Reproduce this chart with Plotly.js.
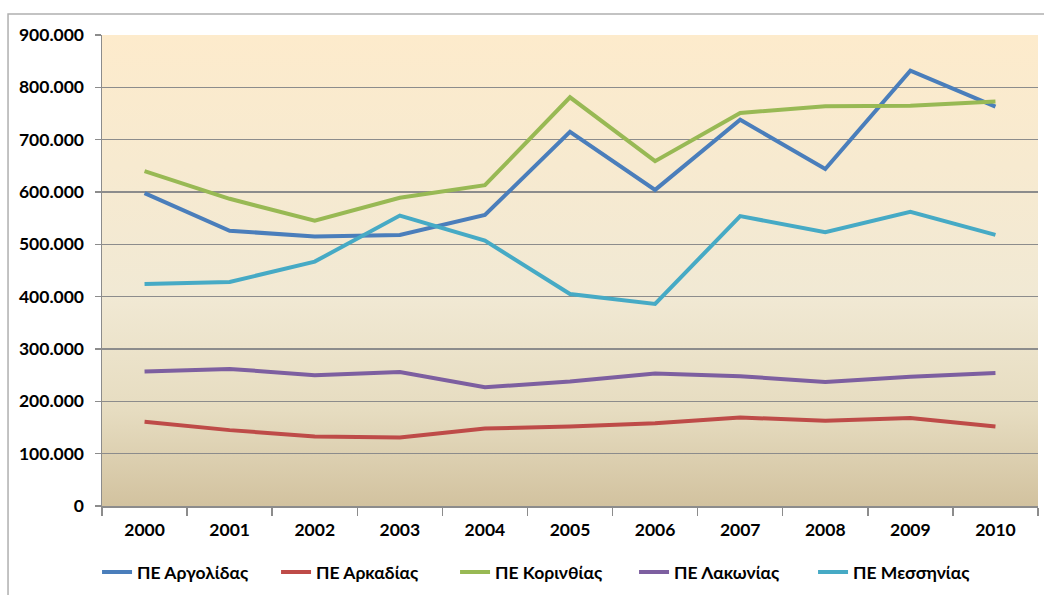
<!DOCTYPE html>
<html>
<head>
<meta charset="utf-8">
<script src="https://cdn.plot.ly/plotly-3.0.1.min.js"></script>
<style>
html,body{margin:0;padding:0;background:#fff;}
#chart{width:1044px;height:595px;}
</style>
</head>
<body>
<div id="chart"></div>
<script>
var years = ['2000','2001','2002','2003','2004','2005','2006','2007','2008','2009','2010'];
var argolida  = [598000, 526000, 515000, 518000, 556000, 715000, 604000, 738000, 644000, 832000, 763000];
var arkadia   = [161000, 145000, 133000, 131000, 148000, 152000, 158000, 169000, 163000, 168000, 152000];
var korinthia = [640000, 587000, 545000, 589000, 613000, 781000, 659000, 751000, 764000, 765000, 773000];
var lakonia   = [257000, 262000, 250000, 256000, 227000, 238000, 253000, 248000, 237000, 247000, 254000];
var messinia  = [424000, 428000, 467000, 555000, 507000, 405000, 386000, 554000, 523000, 562000, 518000];
var seriesNames = ['ΠΕ Αργολίδας','ΠΕ Αρκαδίας','ΠΕ Κορινθίας','ΠΕ Λακωνίας','ΠΕ Μεσσηνίας'];
var yTickVals = [0,100000,200000,300000,400000,500000,600000,700000,800000,900000];
var yTickText = ['0','100.000','200.000','300.000','400.000','500.000','600.000','700.000','800.000','900.000'];

var colors = ['#4a7ebb','#be4b48','#98b954','#7d5fa0','#46aac5'];
var data = [argolida, arkadia, korinthia, lakonia, messinia];
var traces = data.map(function(vals, i){
  return {x: years, y: vals, type:'scatter', mode:'lines', name: seriesNames[i],
          line:{color: colors[i], width:4}};
});

var grad = 'data:image/svg+xml;utf8,' + encodeURIComponent(
 '<svg xmlns="http://www.w3.org/2000/svg" width="100" height="100" preserveAspectRatio="none">' +
 '<defs><linearGradient id="g" x1="0" y1="0" x2="0" y2="1">' +
 '<stop offset="0" stop-color="#fdebcc"/><stop offset="0.55" stop-color="#f1e9d4"/>' +
 '<stop offset="0.8" stop-color="#e6dcc0"/><stop offset="1" stop-color="#d2c29f"/>' +
 '</linearGradient></defs><rect width="100" height="100" fill="url(#g)"/></svg>');

var tf = {family:'Lato, "Open Sans", sans-serif', size:17.5, color:'#000', weight:'bold'};

var layout = {
  width:1044, height:595,
  margin:{l:102, r:6, t:35, b:88},
  paper_bgcolor:'#ffffff', plot_bgcolor:'rgba(0,0,0,0)',
  font:{family:'Lato, "Open Sans", sans-serif', size:17.5, color:'#000'},
  showlegend:true,
  legend:{orientation:'h', x:-0.0053, xanchor:'left', y:-0.138, yanchor:'middle',
          entrywidth:134, entrywidthmode:'pixels',
          font:tf, bgcolor:'rgba(0,0,0,0)'},
  xaxis:{type:'category', tickson:'boundaries', ticks:'outside', ticklen:8, tickcolor:'#8c8c8c', tickwidth:1.5,
         showline:true, linecolor:'#8c8c8c', linewidth:1.5, showgrid:false, zeroline:false,
         tickfont:tf, ticklabelstandoff:7, range:[-0.5,10.5], fixedrange:true},
  yaxis:{range:[0,900000], tickvals:yTickVals, ticktext:yTickText, ticks:'outside', ticklen:6,
         tickcolor:'#8c8c8c', tickwidth:1.5, showline:true, linecolor:'#8c8c8c', linewidth:1.5,
         showgrid:true, gridcolor:'#8c8c8c', gridwidth:1.5, zeroline:false, ticklabelstandoff:7,
         tickfont:tf, fixedrange:true},
  images:[{source:grad, xref:'paper', yref:'paper', x:0, y:1, sizex:1, sizey:1,
           xanchor:'left', yanchor:'top', sizing:'stretch', layer:'below'}],
  shapes:[{type:'rect', xref:'paper', yref:'paper', x0:-0.1004, x1:1.02, y0:-0.2, y1:1.0445,
           line:{color:'#b0b0b0', width:1.5}, fillcolor:'rgba(0,0,0,0)', layer:'below'}]
};

Plotly.newPlot('chart', traces, layout, {displayModeBar:false, staticPlot:true});
</script>
</body>
</html>
